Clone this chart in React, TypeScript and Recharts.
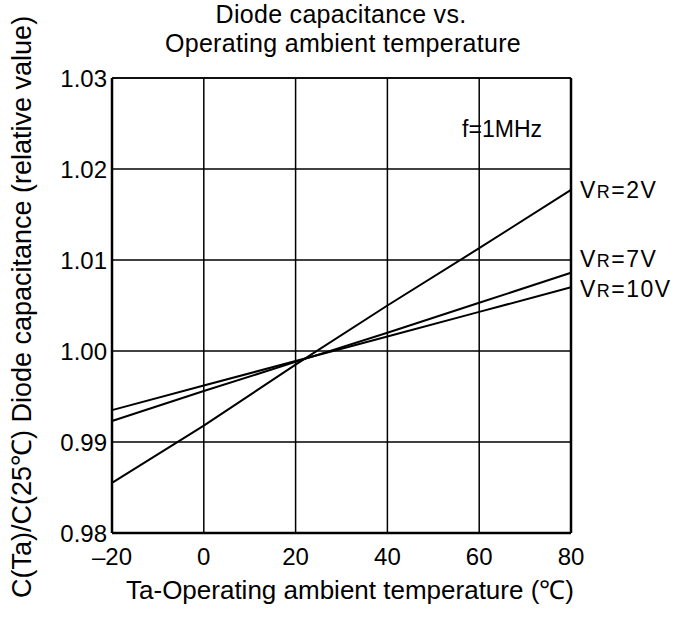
import { LineChart, Line, XAxis, YAxis, CartesianGrid, ReferenceLine, Customized } from 'recharts'

const temps = [-20, 0, 20, 40, 60, 80]
const vr2 = [0.9855, 0.9918, 0.9985, 1.005, 1.0113, 1.0177]
const vr7 = [0.9923, 0.9956, 0.9988, 1.002, 1.0053, 1.0086]
const vr10 = [0.9935, 0.9962, 0.9989, 1.0016, 1.0043, 1.007]
const xTicks = [-20, 0, 20, 40, 60, 80]
const yTicks = [0.98, 0.99, 1.0, 1.01, 1.02, 1.03]
const seriesLabels = [
  { key: 'vr2', value: '2V', dy: 8 },
  { key: 'vr7', value: '7V', dy: -6 },
  { key: 'vr10', value: '10V', dy: 10 },
]

const data = temps.map((t, i) => ({ t, vr2: vr2[i], vr7: vr7[i], vr10: vr10[i] }))

const font = 'Liberation Sans, Arial, sans-serif'

function vrLabel(value: string, dy: number) {
  return (props: any) => {
    if (props.index !== temps.length - 1) return null
    return (
      <text x={props.x + 9} y={props.y + dy} fontSize={23} fontFamily={font} fill="#000" letterSpacing={1.5}>
        V<tspan fontSize={18}>R</tspan>={value}
      </text>
    )
  }
}

function Texts() {
  return (
    <g fontFamily={font} fill="#000">
      <text x={341} y={23} textAnchor="middle" fontSize={25} letterSpacing={0.3}>Diode capacitance vs.</text>
      <text x={343} y={52} textAnchor="middle" fontSize={25} letterSpacing={0.3}>Operating ambient temperature</text>
      <text x={542} y={137} textAnchor="end" fontSize={23}>f=1MHz</text>
      <text x={350} y={599} textAnchor="middle" fontSize={26}>
        Ta-Operating ambient temperature (℃)
      </text>
      <text transform="translate(31, 307) rotate(-90)" textAnchor="middle" fontSize={27}>
        C(Ta)/C(25℃)  Diode capacitance (relative value)
      </text>
    </g>
  )
}

export default function App() {
  return (
    <div style={{ position: 'absolute', left: 0, top: 0 }}>
      <LineChart width={678} height={618} data={data} margin={{ top: 78, right: 107, bottom: 0, left: 0 }}>
        <CartesianGrid stroke="#000" strokeWidth={1.5} />
        <XAxis
          dataKey="t"
          type="number"
          domain={[-20, 80]}
          ticks={xTicks}
          height={85}
          tickSize={0}
          tickMargin={15}
          tickFormatter={(v: number) => String(v).replace('-', '–')}
          axisLine={{ stroke: '#000', strokeWidth: 2.5 }}
          tick={{ fill: '#000', fontSize: 24, fontFamily: font }}
        />
        <YAxis
          type="number"
          domain={[0.98, 1.03]}
          ticks={yTicks}
          width={112}
          tickSize={0}
          tickMargin={5}
          tickFormatter={(v: number) => v.toFixed(2)}
          axisLine={{ stroke: '#000', strokeWidth: 2.5 }}
          tick={{ fill: '#000', fontSize: 24, fontFamily: font }}
        />
        <ReferenceLine x={80} stroke="#000" strokeWidth={2.5} />
        <ReferenceLine y={1.03} stroke="#000" strokeWidth={1.5} />
        {seriesLabels.map((s) => (
          <Line
            key={s.key}
            dataKey={s.key}
            stroke="#000"
            strokeWidth={2}
            dot={false}
            type="linear"
            isAnimationActive={false}
            label={vrLabel(s.value, s.dy)}
          />
        ))}
        <Customized component={Texts} />
      </LineChart>
    </div>
  )
}
